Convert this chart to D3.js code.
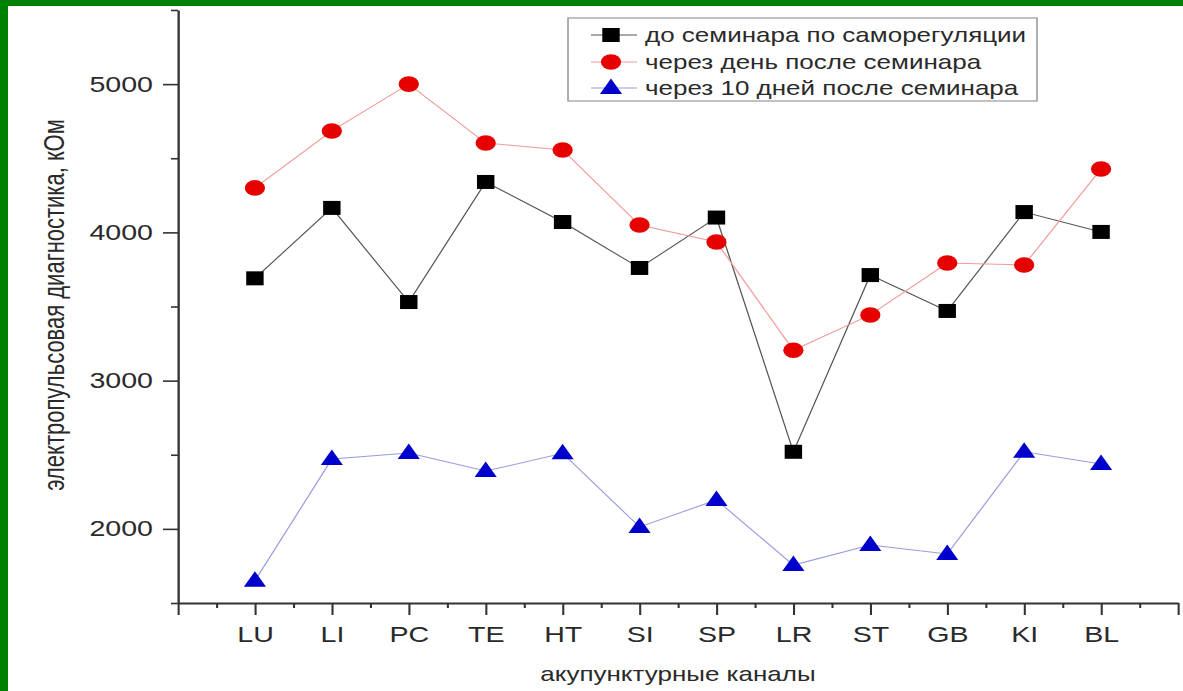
<!DOCTYPE html>
<html>
<head>
<meta charset="utf-8">
<script src="https://cdn.jsdelivr.net/npm/d3@7"></script>
<style>
  html, body { margin: 0; padding: 0; background: #fff; }
  svg { display: block; }
  text { font-family: "Liberation Sans", Arial, sans-serif; fill: #2a2a2a; }
</style>
</head>
<body>
<svg id="chart" width="1183" height="691"></svg>
<script>
// Acupuncture channels on the x axis
const channels = ["LU", "LI", "PC", "TE", "HT", "SI", "SP", "LR", "ST", "GB", "KI", "BL"];

// Electro-pulse readings, kOhm
const beforeSeminar = [3690, 4165, 3530, 4340, 4070, 3760, 4100, 2520, 3712, 3470, 4137, 4003];
const dayAfter      = [4300, 4684, 5000, 4603, 4556, 4050, 3935, 3205, 3443, 3793, 3780, 4427];
const tenDaysAfter  = [1650, 2471, 2512, 2390, 2510, 2013, 2195, 1756, 1891, 1830, 2520, 2438];

const seriesNames = [
  "до семинара по саморегуляции",
  "через день после семинара",
  "через 10 дней после семинара"
];
const yTickValues = [2000, 3000, 4000, 5000];
const yMinorValues = [1500, 2500, 3500, 4500, 5500];

const W = 1183, H = 691;
const sx = 1.3; // horizontal stretch of the whole figure

const svg = d3.select("#chart");

// green frame
svg.append("rect").attr("width", W).attr("height", H).attr("fill", "#008000");
svg.append("rect").attr("x", 8).attr("y", 6).attr("width", W - 8).attr("height", H - 6).attr("fill", "#fff");

const g = svg.append("g").attr("transform", `scale(${sx},1)`);

const x = d3.scaleLinear().domain([0, 13]).range([178 / sx, 1178 / sx]);
const y = d3.scaleLinear().domain([1500, 5500]).range([603, 10]);

const axisColor = "#333";

// x axis: major ticks under channels, minor ticks between
const xAxis = g.append("g")
  .attr("transform", `translate(0,${y(1500)})`)
  .call(d3.axisBottom(x)
    .tickValues(d3.range(0, 14))
    .tickSize(12)
    .tickPadding(11)
    .tickSizeOuter(0)
    .tickFormat(i => channels[i - 1] || ""));
xAxis.select(".domain").attr("stroke", axisColor).attr("stroke-width", 2);
xAxis.selectAll(".tick line").attr("stroke", axisColor).attr("stroke-width", 1.6);
xAxis.selectAll(".tick text")
  .attr("font-size", 22).attr("fill", "#2a2a2a")
  .style("font-family", "'Liberation Sans', Arial, sans-serif");

const xMinor = g.append("g")
  .attr("transform", `translate(0,${y(1500)})`)
  .call(d3.axisBottom(x).tickValues(d3.range(0.5, 13, 1)).tickSize(5).tickFormat(""));
xMinor.select(".domain").remove();
xMinor.selectAll(".tick line").attr("stroke", axisColor).attr("stroke-width", 1.6);

// y axis
const yAxis = g.append("g")
  .attr("transform", `translate(${x(0)},0)`)
  .call(d3.axisLeft(y)
    .tickValues(yTickValues)
    .tickSize(15 / sx)
    .tickPadding(10 / sx)
    .tickSizeOuter(0)
    .tickFormat(d3.format("d")));
yAxis.select(".domain").attr("stroke", axisColor).attr("stroke-width", 1.8);
yAxis.selectAll(".tick line").attr("stroke", axisColor).attr("stroke-width", 1.6);
yAxis.selectAll(".tick text")
  .attr("font-size", 22).attr("fill", "#2a2a2a")
  .style("font-family", "'Liberation Sans', Arial, sans-serif");

const yMinor = g.append("g")
  .attr("transform", `translate(${x(0)},0)`)
  .call(d3.axisLeft(y).tickValues(yMinorValues).tickSize(7 / sx).tickFormat(""));
yMinor.select(".domain").remove();
yMinor.selectAll(".tick line").attr("stroke", axisColor).attr("stroke-width", 1.6);

// axis titles
g.append("text")
  .attr("x", x(6.5))
  .attr("y", 681)
  .attr("text-anchor", "middle")
  .attr("font-size", 20)
  .text("акупунктурные каналы");

g.append("text")
  .attr("transform", `translate(${64 / sx},${305}) rotate(-90)`)
  .attr("text-anchor", "middle")
  .attr("font-size", 22)
  .text("электропульсовая диагностика, кОм");

// marker shapes
const trianglePath = "M0,-9.5L8.5,6L-8.5,6Z";
function drawMarker(sel, kind, color) {
  if (kind === "square") {
    sel.append("rect").attr("x", -6.7).attr("y", -7).attr("width", 13.4).attr("height", 14).attr("fill", color);
  } else if (kind === "circle") {
    sel.append("circle").attr("r", 7.8).attr("fill", color);
  } else {
    sel.append("path").attr("d", trianglePath).attr("fill", color);
  }
}

const series = [
  { name: seriesNames[0], values: beforeSeminar, line: "#555", marker: "#000", kind: "square" },
  { name: seriesNames[1], values: dayAfter, line: "#f29a9a", marker: "#e60000", kind: "circle" },
  { name: seriesNames[2], values: tenDaysAfter, line: "#9a9ae0", marker: "#0000cc", kind: "triangle" }
];

const line = d3.line().x((d, i) => x(i + 1)).y(d => y(d));

series.forEach(s => {
  g.append("path")
    .datum(s.values)
    .attr("d", line)
    .attr("fill", "none")
    .attr("stroke", s.line)
    .attr("stroke-width", 1);
});

series.forEach(s => {
  g.selectAll(null)
    .data(s.values)
    .join("g")
    .attr("transform", (d, i) => `translate(${x(i + 1)},${y(d)})`)
    .each(function () { drawMarker(d3.select(this), s.kind, s.marker); });
});

// legend
const legend = g.append("g");
legend.append("rect")
  .attr("x", 568 / sx).attr("y", 18)
  .attr("width", (1037 - 568) / sx).attr("height", 83)
  .attr("fill", "#fff").attr("stroke", "#999").attr("stroke-width", 1.2);

const legendRows = [35, 62, 88];
series.forEach((s, i) => {
  const row = legend.append("g").attr("transform", `translate(0,${legendRows[i]})`);
  row.append("line")
    .attr("x1", 591 / sx).attr("x2", 637 / sx)
    .attr("stroke", s.line).attr("stroke-width", 1);
  const m = row.append("g").attr("transform", `translate(${611 / sx},0)`);
  drawMarker(m, s.kind, s.marker);
  row.append("text")
    .attr("x", 645 / sx)
    .attr("dy", "0.35em")
    .attr("font-size", 20)
    .text(s.name);
});
</script>
</body>
</html>
